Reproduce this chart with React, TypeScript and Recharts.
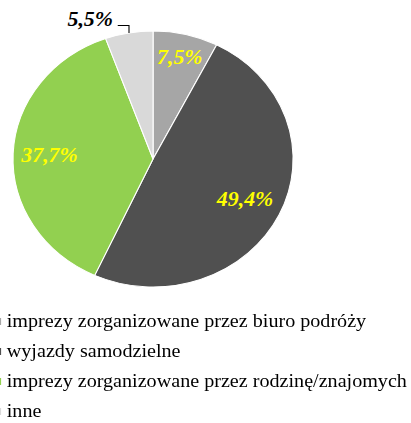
import React from "react";
import { PieChart, Pie, Cell, Legend } from "recharts";

const categories = [
  "imprezy zorganizowane przez biuro podróży",
  "wyjazdy samodzielne",
  "imprezy zorganizowane przez rodzinę/znajomych",
  "inne",
];
const values = [7.5, 49.4, 37.7, 5.5];
const colors = ["#a6a6a6", "#505050", "#92d050", "#d9d9d9"];
const labelColors = ["#ffff00", "#ffff00", "#ffff00", "#000000"];

const data = categories.map((name, i) => ({ name, value: values[i] }));

const RADIAN = Math.PI / 180;
const labelRadius = [0.82, 0.73, 0.74];
const fmt = (v: number) => v.toFixed(1).replace(".", ",") + "%";

const renderLabel = (props: any) => {
  const { cx, cy, midAngle, outerRadius, index, value } = props;
  const font = {
    fontFamily: "Liberation Serif",
    fontWeight: 700,
    fontStyle: "italic" as const,
    fontSize: 20,
  };
  if (index < 3) {
    const r = outerRadius * labelRadius[index];
    const x = cx + r * Math.cos(-midAngle * RADIAN);
    const y = cy + r * Math.sin(-midAngle * RADIAN);
    return (
      <text x={x} y={y} fill={labelColors[index]} textAnchor="middle" dominantBaseline="central" {...font}>
        {fmt(value)}
      </text>
    );
  }
  const ex = cx + outerRadius * Math.cos(-midAngle * RADIAN);
  const ey = cy + outerRadius * Math.sin(-midAngle * RADIAN);
  const elbowY = ey - 7.5;
  return (
    <g>
      <polyline
        points={`${ex},${ey} ${ex},${elbowY} ${ex - 10.3},${elbowY}`}
        fill="none"
        stroke="#000"
        strokeWidth={1}
      />
      <text x={ex - 14.6} y={ey - 7} fill={labelColors[index]} textAnchor="end" {...font}>
        {fmt(value)}
      </text>
    </g>
  );
};

const renderLegend = () => (
  <div style={{ fontFamily: "Liberation Serif", fontSize: 18.4, color: "#000" }}>
    {categories.map((c, i) => (
      <div
        key={c}
        style={{ position: "relative", height: 30, lineHeight: "30px", whiteSpace: "nowrap", paddingLeft: 6.2 }}
      >
        <span
          style={{
            position: "absolute",
            left: -5,
            top: 12,
            width: 6,
            height: 7,
            background: colors[i],
          }}
        />
        {c}
      </div>
    ))}
  </div>
);

export default function App() {
  return (
    <div
      style={{
        position: "absolute",
        left: 0,
        top: 0,
        width: 375,
        height: 423,
        transform: "scaleX(1.094)",
        transformOrigin: "0 0",
        background: "#fff",
      }}
    >
      <PieChart width={375} height={423} margin={{ top: 0, right: 0, bottom: 0, left: 0 }}>
        <Pie
          data={data}
          dataKey="value"
          nameKey="name"
          cx={139.9}
          cy={159}
          outerRadius={128}
          startAngle={90}
          endAngle={-270}
          stroke="#ffffff"
          strokeWidth={1}
          label={renderLabel}
          labelLine={false}
          isAnimationActive={false}
        >
          {data.map((d, i) => (
            <Cell key={d.name} fill={colors[i]} />
          ))}
        </Pie>
        <Legend
          content={renderLegend}
          wrapperStyle={{ position: "absolute", left: 0, top: 306, width: 375, bottom: "auto" }}
        />
      </PieChart>
    </div>
  );
}
